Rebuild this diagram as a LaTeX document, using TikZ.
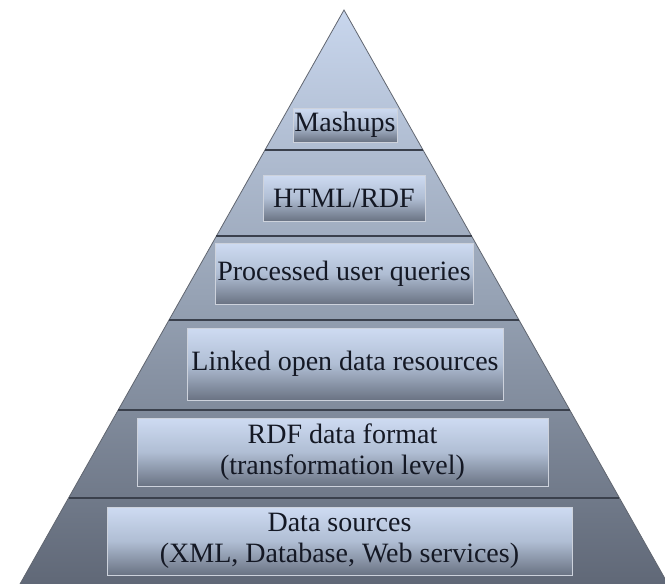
\documentclass[tikz,border=0pt]{standalone}
\usepackage{fontspec}
\setmainfont{Liberation Serif}
\definecolor{pyrtop}{RGB}{200,214,237}
\definecolor{pyrmid}{RGB}{150,162,180}
\definecolor{pyrbot}{RGB}{96,104,119}
\definecolor{boxtop}{RGB}{206,219,242}
\definecolor{boxmid}{RGB}{176,190,212}
\definecolor{boxbot}{RGB}{106,115,131}
\definecolor{boxline}{RGB}{205,210,220}
\definecolor{divline}{RGB}{58,64,76}
\definecolor{txt}{RGB}{20,24,36}
\begin{document}
\begin{tikzpicture}[x=1pt,y=-1pt,
  tier/.style={draw=divline,line width=1.2pt},
  box/.style={rectangle,draw=boxline,line width=1pt,inner sep=0pt,
    top color=boxtop,bottom color=boxbot,middle color=boxmid,
    text=txt,align=center,font=\fontsize{28}{31}\selectfont}]
\clip (0,0) rectangle (665,584);
% pyramid body
\coordinate (apex) at (344,10);
\coordinate (bl) at (20,584);
\coordinate (br) at (668,584);
\shade[top color=pyrtop,bottom color=pyrbot,middle color=pyrmid] (apex) -- (br) -- (bl) -- cycle;
\draw[draw=divline!80,line width=0.8pt] (bl) -- (apex) -- (br);
% dividers
\foreach \y/\n in {150/a,236/b,320/c,410/d,498/e}{
  \pgfmathsetmacro{\hw}{0.5645*(\y-10)}
  \coordinate (L\n) at ({344-\hw},\y);
  \coordinate (R\n) at ({344+\hw},\y);
  \draw[tier] (L\n) -- (R\n);
}
% boxes
\node[box,minimum width=104pt,minimum height=34pt] (mash) at (345,125) {Mashups};
\node[box,minimum width=162pt,minimum height=46pt] (html) at (344,198) {HTML/RDF};
\node[box,minimum width=258pt,minimum height=61pt] (proc) at (344,273.5) {Processed user queries};
\node[box,minimum width=316pt,minimum height=72pt] (lod) at (345,364) {Linked open data resources};
\node[box,minimum width=411pt,minimum height=68pt] (rdf) at (342.5,452) {RDF data format\\(transformation level)};
\node[box,minimum width=465pt,minimum height=68pt] (ds) at (339.5,541) {Data sources\\(XML, Database, Web services)};
\end{tikzpicture}
\end{document}
